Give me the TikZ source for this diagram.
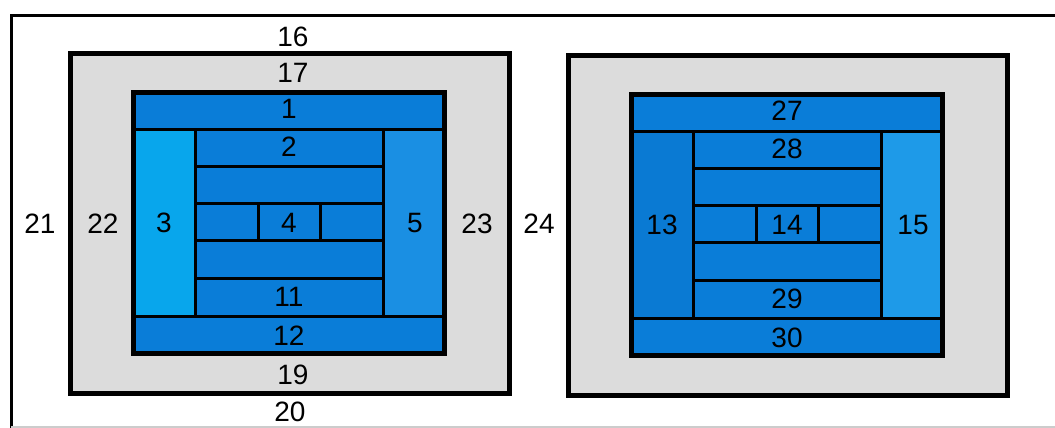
\documentclass[tikz,border=0pt]{standalone}
\usepackage{fontspec}
\setmainfont{Liberation Sans}
\definecolor{panelgray}{HTML}{DCDCDC}
\definecolor{quiltblue}{HTML}{0A7DD8}
\definecolor{leftA}{HTML}{08A6EC}
\definecolor{rightA}{HTML}{1A8FE3}
\definecolor{leftB}{HTML}{0A7AD3}
\definecolor{rightB}{HTML}{1E9AE8}
\newcommand\quiltblock[9]{%
\begin{scope}[shift={(#1,#2)}]
  \fill[panelgray] (-63,-39) rectangle (381,306);
  \draw[frame] (-60.5,-36.5) rectangle (378.5,303.5);
  \fill[quiltblue] (0,0) rectangle (316,266);
  \fill[\colL] (4,39) rectangle (64,226);
  \fill[\colR] (252,39) rectangle (312,226);
  \draw[frame] (2.5,2.5) rectangle (313.5,263.5);
  \draw[seam] (4,39) -- (312,39);
  \draw[seam] (4,226) -- (312,226);
  \draw[seam] (64,39) -- (64,226);
  \draw[seam] (252,39) -- (252,226);
  \draw[seam] (64,76) -- (252,76);
  \draw[seam] (64,113) -- (252,113);
  \draw[seam] (64,150) -- (252,150);
  \draw[seam] (64,188) -- (252,188);
  \draw[seam] (127,113) -- (127,150);
  \draw[seam] (189,113) -- (189,150);
  \node[lab] (c#3) at (158,19) {#3};
  \node[lab] (c#4) at (158,57) {#4};
  \node[lab] (c#5) at (33,133) {#5};
  \node[lab] (c#6) at (158,133) {#6};
  \node[lab] (c#7) at (284,133) {#7};
  \node[lab] (c#8) at (158,207) {#8};
  \node[lab] (c#9) at (158,246) {#9};
\end{scope}}
\begin{document}
\begin{tikzpicture}[x=1pt,y=-1pt,
  lab/.style={font=\fontsize{28}{28}\selectfont, inner sep=0pt, anchor=center},
  frame/.style={line width=5pt, draw=black},
  seam/.style={line width=3pt, draw=black}]
\useasboundingbox (0,0) rectangle (1055,428);
\fill[white] (0,0) rectangle (1055,428);
\draw[line width=3pt] (1056,16) -- (11,16) -- (11,429);
\draw[line width=1.5pt, black!20] (11,427) -- (1056,427);
\def\colL{leftA}\def\colR{rightA}
\quiltblock{131}{90}{1}{2}{3}{4}{5}{11}{12}
\def\colL{leftB}\def\colR{rightB}
\quiltblock{629}{92}{27}{28}{13}{14}{15}{29}{30}
\node[lab] (c16) at (293,37) {16};
\node[lab] (c17) at (293,73) {17};
\node[lab] (c19) at (293,375) {19};
\node[lab] (c20) at (290,412) {20};
\node[lab] (c21) at (40,224) {21};
\node[lab] (c22) at (103,224) {22};
\node[lab] (c23) at (477,224) {23};
\node[lab] (c24) at (539,224) {24};
\end{tikzpicture}
\end{document}
